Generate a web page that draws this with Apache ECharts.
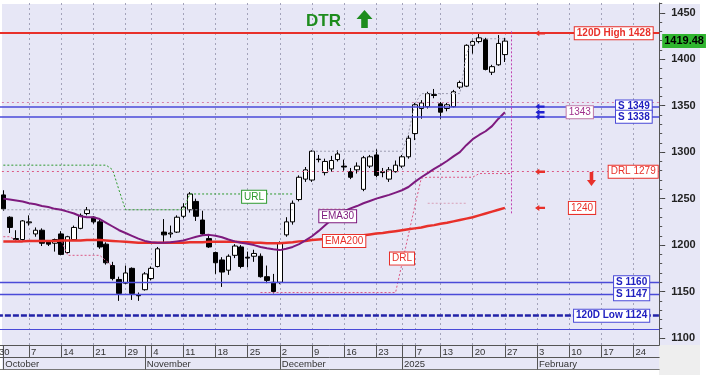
<!DOCTYPE html>
<html><head><meta charset="utf-8">
<script src="https://cdn.jsdelivr.net/npm/echarts@6/dist/echarts.min.js"></script>
<style>html,body{margin:0;padding:0;background:#fff}#c{width:707px;height:375px}</style>
</head><body><div id="c"></div>
<script>
// ---- categories: trading days (Athens) ----
const dates = [
'2024-09-30',
'2024-10-01','2024-10-02','2024-10-03','2024-10-04','2024-10-07','2024-10-08','2024-10-09','2024-10-10','2024-10-11',
'2024-10-14','2024-10-15','2024-10-16','2024-10-17','2024-10-18','2024-10-21','2024-10-22','2024-10-23','2024-10-24','2024-10-25',
'2024-10-29','2024-10-30','2024-10-31',
'2024-11-01','2024-11-04','2024-11-05','2024-11-06','2024-11-07','2024-11-08','2024-11-11','2024-11-12','2024-11-13','2024-11-14','2024-11-15',
'2024-11-18','2024-11-19','2024-11-20','2024-11-21','2024-11-22','2024-11-25','2024-11-26','2024-11-27','2024-11-28','2024-11-29',
'2024-12-02','2024-12-03','2024-12-04','2024-12-05','2024-12-06','2024-12-09','2024-12-10','2024-12-11','2024-12-12','2024-12-13',
'2024-12-16','2024-12-17','2024-12-18','2024-12-19','2024-12-20','2024-12-23','2024-12-24','2024-12-27','2024-12-30',
'2025-01-02','2025-01-03','2025-01-07','2025-01-08','2025-01-09','2025-01-10','2025-01-13','2025-01-14','2025-01-15','2025-01-16','2025-01-17',
'2025-01-20','2025-01-21','2025-01-22','2025-01-23','2025-01-24','2025-01-27','2025-01-28','2025-01-29','2025-01-30','2025-01-31',
'2025-02-03','2025-02-04','2025-02-05','2025-02-06','2025-02-07','2025-02-10','2025-02-11','2025-02-12','2025-02-13','2025-02-14',
'2025-02-17','2025-02-18','2025-02-19','2025-02-20','2025-02-21','2025-02-24','2025-02-25','2025-02-26','2025-02-27','2025-02-28'
];
const monthNames = ['2025','January','February','March','April','May','June','July','August','September','October','November','December'];

// ---- candles from 2024-10-01: [open, high, low, close] ----
const candles = [
[1254,1259,1237,1239],[1230,1231,1213,1219],[1207,1216,1205,1206],[1206,1227,1205,1226],[1224,1232,1221,1225],
[1212,1219,1209,1216],[1216,1218,1199,1202],[1204,1205,1199,1201],[1202,1207,1193,1206],[1212,1215,1189,1190],
[1192,1210,1191,1209],[1206,1221,1205,1219],[1218,1234,1217,1232],[1234,1241,1232,1238],[1230,1231,1223,1225],
[1225,1229,1196,1198],[1201,1203,1179,1181],[1178,1182,1162,1164],[1163,1166,1140,1148],[1159,1178,1158,1170],
[1175,1176,1141,1148],[1146,1149,1140,1145.5],[1152,1171,1151,1169],[1164,1177,1162,1175],[1177,1198,1176,1196],
[1214,1228,1202,1211],[1212,1221,1208,1213],[1214,1232,1213,1230],[1231,1245,1229,1241],[1238,1257,1235,1255],
[1247,1250,1226,1231],[1227,1237,1211,1212],[1207,1211,1197,1198],[1192,1193,1169,1181],[1184,1187,1155,1171],
[1173,1190,1168,1188],[1189,1201,1186,1199],[1198,1200,1175,1177],[1187,1193,1176,1186],[1188,1195,1182,1191],
[1188,1191,1165,1166],[1166,1178,1159,1162],[1160,1169,1148,1150],[1160,1204,1158,1202],[1211,1230,1209,1225],
[1225,1248,1222,1245],[1249,1275,1247,1273],[1271,1284,1268,1281],[1270,1302,1268,1301],[1292,1297,1289,1292.5],
[1278,1293,1275,1290],[1282,1296,1279,1291],[1292,1302,1290,1298],[1285,1292,1280,1284],[1279,1283,1271,1273],
[1281,1289,1277,1285],[1260,1296,1258,1294],[1285,1297,1283,1295],[1297,1303,1273,1275],[1279,1283,1273,1278],
[1271,1284,1268,1281],[1279,1291,1278,1286],[1285,1297,1283,1295],[1295,1318,1293,1315],[1320,1353,1313,1351],
[1347,1356,1336,1353],[1349,1365,1347,1363],[1362,1368,1358,1361],[1352,1354,1336,1343],[1347,1353,1344,1351],
[1349,1367,1348,1365],[1370,1377,1368,1375],[1371,1416,1370,1415],[1415,1422,1406,1419],[1419,1428,1417,1423],
[1421,1423,1388,1389],[1386,1394,1383,1392],[1394,1426,1393,1417],[1405,1423,1397,1419.48]
];

const ema30 = [
1250,1249,1248,1247,1245,1244,1242,1241,1239,1238,1236,1234,1231,1230,1230,1228,1224,1220,1216,1213,
1210,1207,1204.5,1203,1202.5,1202.5,1203,1204,1205,1207,1209,1210.5,1211,1210,1208.5,1206,1204,1202.5,1201.5,1200,
1198,1196.5,1195.5,1194.6,1196,1198,1201,1205,1209.5,1215,1221,1227,1232,1236.5,1239.5,1242,1245,1247.5,1250,1252,
1254,1256.5,1259,1262.5,1268,1273,1277.5,1282,1286,1290.5,1295.5,1300,1307.5,1314,1318.5,1322.5,1328,1336,1343
];
const ema200 = [
1204,1204,1204,1204,1204.5,1204.5,1204.5,1204.5,1204.5,1205,1205,1205,1205,1205.5,1205.5,1205.5,1205,1204.5,1204,1203.5,
1203,1202.5,1202.5,1202.5,1202.5,1202.5,1202.5,1202.5,1202.5,1203,1203,1203,1203.5,1203.5,1203.5,1203.5,1203.5,1203,1203,1202.5,
1202.5,1202,1202,1202,1202.5,1203,1204,1204.5,1205.5,1206,1206.5,1207,1207.5,1208.5,1209,1210,1210.5,1211.5,1212.5,1213,
1214,1215,1216,1217,1218,1219,1220.5,1221.5,1223,1224,1225.5,1227,1228.5,1230,1232,1234,1236,1238,1240
];
const urlLine = [
1286,1286,1286,1286,1286,1286,1286,1286,1286,1286,1286,1286,1286,1286,1286,1286,1286,1281,1259,1238,
1238,1238,1238,1238,1238,1238,1238,1238,1238,1255,1255,1255,1255,1255,1255,1255,1255,1255,1255,1255,
1255,1255,1255,1255,1255,1255
];
const drlLine = [
1209,1209,1205,1205,1205,1205,1205,1205,1205,1205,1189,1189,1189,1189,1189,1189,1183,1177,null,null,
null,null,null,null,null,null,null,null,null,null,null,null,null,null,null,null,null,null,null,null,
1149,1149,1149,1149,1149,1149,1149,1149,1149,1149,1149,1149,1149,1149,1149,1149,1149,1149,1149,1149,
1149,1149,1180,1211,1242,1272,1273,1273,1273,1273,1273,1273,1273,1273,1277,1277,1277,1277,1277,1277
];
const trailLine = [
1238,1238,1238,1238,1238,1238,1238,1238,1238,1238,1238,1238,1238,1238,1238,1238,1238,1238,1238,1238,
1238,1238,1238,1238,1238,1238,1238,1238,1238,1238,1238,1238,1238,1238,1238,1238,1238,1238,1238,1238,
1238,1238,1238,1238,1238,1238,null,null,1301,1301,1301,1301,1301,1301,1301,1301,1301,1301,1301,1301,
1301,1301,1301,1320,1352,1363,1363,1363,1363,1363,1363,1363,1405,1422,1422,1422,1422,1422,1422
];
const faintLine = [
null,null,null,null,null,null,null,null,null,null,null,null,null,null,null,null,null,null,null,null,
null,null,null,null,null,null,null,null,null,null,null,null,null,null,null,null,null,null,null,null,
null,null,null,null,null,null,null,null,null,1239,1239,1239,1239,1239,null,null,null,null,null,null,
null,null,null,null,null,null,1245,1245,1245,1245,1245,1245,1245
];
const yTickLabels = [1100,1150,1200,1250,1300,1350,1400,1450];
const yMinorTicks = [1100,1110,1120,1130,1140,1150,1160,1170,1180,1190,1200,1210,1220,1230,1240,1250,1260,1270,1280,1290,
1300,1310,1320,1330,1340,1350,1360,1370,1380,1390,1400,1410,1420,1430,1440,1450,1460];
const lastPrice = 1419.48;
const high120 = 1428, low120 = 1124, drlLevel = 1279, ema30Last = 1343, ema200Last = 1240;
const supports = [1349, 1338, 1160, 1147];
const extraLevels = [1354, 1109.5];

// ---- helpers ----
const F = '"Liberation Sans", Arial, sans-serif';
const dow = s => new Date(s + 'T00:00:00Z').getUTCDay();
const isWeekStart = dates.map((d, i) => i === 0 || dow(d) <= dow(dates[i - 1]));
const isMonthStart = dates.map((d, i) => i > 0 && d.slice(5, 7) !== dates[i - 1].slice(5, 7));
// a week whose start is directly followed by a new month is marked at the month start instead (except first day)
const weekMark = dates.map((d, i) => isWeekStart[i] && (i === 0 || !isMonthStart[i + 1]));
const gridMark = dates.map((d, i) => weekMark[i] || (isMonthStart[i] && i > 1 && isWeekStart[i - 1] && !weekMark[i - 1]));
const pad = arr => [null].concat(arr);
const candleData = [['-','-','-','-']].concat(candles.map(([o, h, l, c]) => [o, c, l, h]));
const lastCat = dates[dates.length - 1];

const RED = '#e8302a', BLUE = '#4a4ad8', NAVY = '#2323a8', PURPLE = '#7e1a7e', GREEN = '#2c9a2c', PINK = '#dc5a86';
function boxLabel(text, color, border, bold, position, distance) {
  return { show: true, position: position, distance: distance, formatter: text, color: color,
    fontFamily: F, fontSize: 10, fontWeight: bold ? 'bold' : 'normal', lineHeight: 10,
    backgroundColor: '#fff', borderColor: border, borderWidth: 1, padding: [1, 2, 1, 2] };
}
function tag(cat, val, label) { return { coord: [cat, val], symbol: 'circle', symbolSize: 0, label: label }; }
const leftArrow = 'path://M0,5 L6,0 L6,3 L14,3 L14,7 L6,7 L6,10 Z';
const downArrow = 'path://M3,0 L7,0 L7,8 L10,8 L5,14 L0,8 L3,8 Z';
function arrow(cat, val, color, sym, size, off) {
  return { coord: [cat, val], symbol: sym, symbolSize: size, symbolOffset: off, itemStyle: { color: color }, label: { show: false } };
}

const chart = echarts.init(document.getElementById('c'), null, { renderer: 'canvas' });
chart.setOption({
  animation: false,
  backgroundColor: '#fff',
  title: { text: 'DTR', left: 306, top: 13, padding: 0,
    textStyle: { fontSize: 17, fontWeight: 'bold', color: '#1e8c1e', fontFamily: F } },
  graphic: [
    { type: 'rect', z: -100, silent: true, shape: { x: 2, y: 4, width: 698, height: 341 }, style: { fill: '#e7e7f6' } },
    { type: 'rect', z: -100, silent: true, shape: { x: 2, y: 345, width: 657, height: 25 }, style: { fill: '#e7e7f6' } },
    { type: 'rect', z: -100, silent: true, shape: { x: 659, y: 345, width: 41, height: 30 }, style: { fill: '#eeeeee' } },
    { type: 'polygon', z: 10, silent: true,
      shape: { points: [[364.5,10],[372.5,19],[367.8,19],[367.8,28],[361.2,28],[361.2,19],[356.5,19]] },
      style: { fill: '#1e8c1e' } }
  ],
  grid: { left: -3.1, right: 47.8, top: 3, bottom: 30, containLabel: false, outerBoundsMode: 'none' },
  xAxis: [
    { type: 'category', data: dates, boundaryGap: false,
      axisLine: { show: true, lineStyle: { color: '#555', width: 1 } },
      axisTick: { show: true, interval: i => weekMark[i] || isMonthStart[i], length: 12.5, lineStyle: { color: '#555' } },
      axisLabel: { show: true, interval: i => weekMark[i], formatter: v => String(+v.slice(8)),
        align: 'left', padding: [0, 0, 0, 2], margin: 2, fontSize: 9.5, color: '#333', fontFamily: F },
      splitLine: { show: true, interval: i => gridMark[i], lineStyle: { color: '#a3a3ba', type: [2, 3], width: 1 } } },
    { type: 'category', data: dates, boundaryGap: false, position: 'bottom', offset: 12.5,
      axisLine: { show: true, lineStyle: { color: '#555', width: 1 } },
      axisTick: { show: true, interval: i => isMonthStart[i], length: 12, lineStyle: { color: '#555' } },
      axisLabel: { show: true, interval: i => isMonthStart[i],
        formatter: v => { const m = +v.slice(5, 7); return m === 1 ? v.slice(0, 4) : monthNames[m]; },
        align: 'left', padding: [0, 0, 0, 2], margin: 2, fontSize: 9.5, color: '#333', fontFamily: F },
      splitLine: { show: false } },
    { type: 'category', data: dates, boundaryGap: false, position: 'bottom', offset: 24.5,
      axisLine: { show: true, lineStyle: { color: '#777', width: 1 } },
      axisTick: { show: false }, axisLabel: { show: false }, splitLine: { show: false } }
  ],
  yAxis: [
    { type: 'value', position: 'right', min: 1092.5, max: 1460.5,
      axisLine: { show: true, lineStyle: { color: '#555', width: 1 } },
      axisTick: { show: true, customValues: yTickLabels, length: 6, lineStyle: { color: '#444' } },
      axisLabel: { show: true, customValues: yTickLabels, formatter: v => String(v), margin: 12, fontSize: 11,
        fontWeight: 'bold', color: '#222', fontFamily: F },
      splitLine: { show: false } },
    { type: 'value', position: 'right', min: 1092.5, max: 1460.5,
      axisLine: { show: false },
      axisTick: { show: true, customValues: yMinorTicks, length: 3, lineStyle: { color: '#555' } },
      axisLabel: { show: false }, splitLine: { show: false } },
    { type: 'value', position: 'right', min: 1092.5, max: 1460.5,
      axisLine: { show: false }, axisTick: { show: false },
      axisLabel: { show: true, customValues: [lastPrice], formatter: () => lastPrice.toFixed(2), margin: 3,
        fontSize: 11, fontWeight: 'bold', color: '#000', backgroundColor: '#2fb52f', padding: [2, 2, 1, 2], fontFamily: F },
      splitLine: { show: false } }
  ],
  series: [
    { name: 'trail', type: 'line', data: pad(trailLine), symbol: 'none', connectNulls: false, silent: true,
      lineStyle: { color: '#9c9cb0', width: 1, type: [2, 2] } },
    { name: 'faint', type: 'line', data: pad(faintLine), symbol: 'none', connectNulls: false, silent: true,
      lineStyle: { color: '#d8a0b8', width: 1, type: [2, 2] } },
    { name: 'URL', type: 'line', data: pad(urlLine), symbol: 'none', connectNulls: false, silent: true,
      lineStyle: { color: GREEN, width: 1, type: [2, 2] } },
    { name: 'DRL', type: 'line', data: pad(drlLine), symbol: 'none', connectNulls: false, silent: true,
      lineStyle: { color: PINK, width: 1, type: [2, 2] } },
    { name: 'EMA200', type: 'line', data: pad(ema200), symbol: 'none', silent: true,
      lineStyle: { color: RED, width: 2.5 } },
    { name: 'EMA30', type: 'line', data: pad(ema30), symbol: 'none', silent: true,
      lineStyle: { color: PURPLE, width: 2 } },
    { name: 'DTR', type: 'candlestick', data: candleData, barWidth: 5, silent: true,
      itemStyle: { color: '#ffffff', color0: '#000000', borderColor: '#000000', borderColor0: '#000000', borderWidth: 1 },
      markLine: { silent: true, symbol: 'none', label: { show: false },
        data: [
          { yAxis: high120, lineStyle: { color: RED, width: 2, type: 'solid' } },
          { yAxis: extraLevels[0], lineStyle: { color: '#d880aa', width: 1, type: [2, 3] } },
          { yAxis: supports[0], lineStyle: { color: BLUE, width: 1.5, type: 'solid' } },
          { yAxis: supports[1], lineStyle: { color: BLUE, width: 1.5, type: 'solid' } },
          { yAxis: drlLevel, lineStyle: { color: PINK, width: 1, type: [2, 3] } },
          { yAxis: supports[2], lineStyle: { color: BLUE, width: 1.3, type: 'solid' } },
          { yAxis: supports[3], lineStyle: { color: BLUE, width: 1.3, type: 'solid' } },
          { yAxis: low120, lineStyle: { color: NAVY, width: 2.5, type: [6, 2] } },
          { yAxis: extraLevels[1], lineStyle: { color: BLUE, width: 1, type: 'solid' } },
          [ { coord: ['2025-01-28', 1430] }, { coord: ['2025-01-28', 1234], lineStyle: { color: '#c040b0', width: 1, type: [2, 2] } } ]
        ] },
      markPoint: { silent: true,
        data: [
          tag(lastCat, high120, boxLabel('120D High ' + high120, RED, RED, true, 'left', 6.5)),
          tag(lastCat, supports[0], boxLabel('S ' + supports[0], '#2020c0', BLUE, true, 'left', 7.5)),
          tag(lastCat, supports[1], boxLabel('S ' + supports[1], '#2020c0', BLUE, true, 'left', 7.5)),
          tag(lastCat, drlLevel, boxLabel('DRL ' + drlLevel, RED, RED, false, 'left', 1.5)),
          tag(lastCat, supports[2], boxLabel('S ' + supports[2], '#2020c0', BLUE, true, 'left', 10)),
          tag(lastCat, supports[3], boxLabel('S ' + supports[3], '#2020c0', BLUE, true, 'left', 10)),
          tag(lastCat, low120, boxLabel('120D Low ' + low120, '#2020c0', BLUE, true, 'left', 10)),
          tag('2025-02-14', ema30Last, boxLabel(String(ema30Last), '#a0308c', '#c07aa8', false, 'left', 2)),
          tag('2025-02-12', ema200Last, boxLabel(String(ema200Last), RED, RED, false, 'inside', 0)),
          tag('2024-12-13', 1231, boxLabel('EMA30', PURPLE, PURPLE, false, 'inside', 0)),
          tag('2024-12-16', 1204.5, boxLabel('EMA200', RED, RED, false, 'inside', 0)),
          tag('2024-11-26', 1252, boxLabel('URL', GREEN, GREEN, false, 'inside', 0)),
          tag('2025-01-02', 1185.5, boxLabel('DRL', RED, RED, false, 'inside', 0)),
          arrow('2025-02-03', high120, RED, leftArrow, [10, 6], [3, 0]),
          arrow('2025-02-03', drlLevel, RED, leftArrow, [10, 6], [3, 0]),
          arrow('2025-02-03', ema200Last, RED, leftArrow, [10, 6], [3, 0]),
          arrow('2025-02-03', supports[0], '#2020d0', leftArrow, [9, 6], [3, 0]),
          arrow('2025-02-03', ema30Last, '#2020d0', leftArrow, [9, 6], [3, 0]),
          arrow('2025-02-03', supports[1], '#2020d0', leftArrow, [9, 6], [3, 0]),
          arrow('2025-02-13', 1271, RED, downArrow, [9, 14], [3, 0])
        ] }
    }
  ]
});
</script>
</body></html>
